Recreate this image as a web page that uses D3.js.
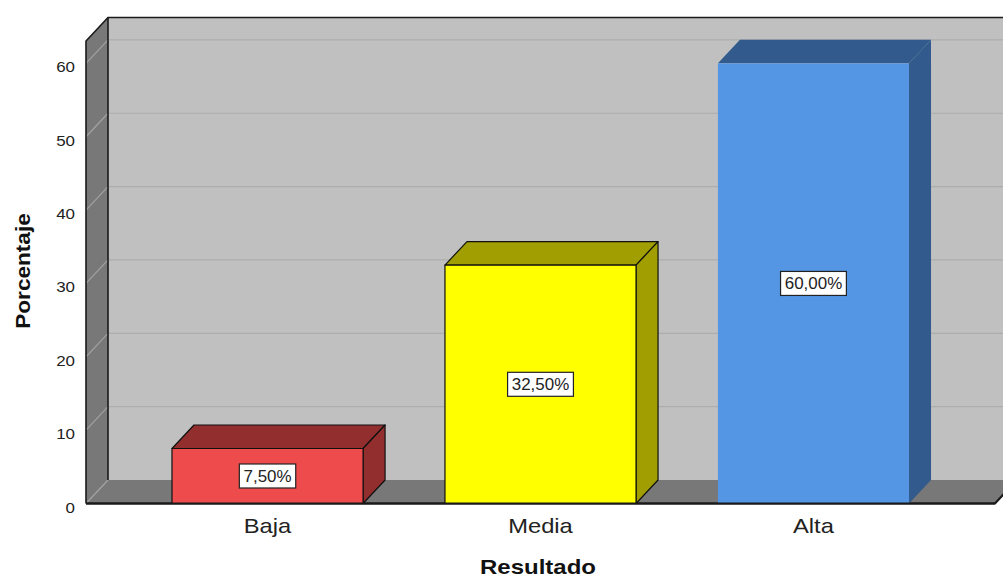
<!DOCTYPE html>
<html>
<head>
<meta charset="utf-8">
<script src="https://cdn.jsdelivr.net/npm/d3@7"></script>
<style>
  html, body { margin: 0; padding: 0; background: #ffffff; }
  svg { display: block; }
  text { font-family: "Liberation Sans", Arial, sans-serif; }
</style>
</head>
<body>
<svg id="chart" width="1003" height="579"></svg>
<script>
// ---- data ----
const categories = ["Baja", "Media", "Alta"];
const values = [7.5, 32.5, 60.0];
const valueLabels = ["7,50%", "32,50%", "60,00%"];
const yTicks = [0, 10, 20, 30, 40, 50, 60];
const frontColors = ["#ee4c4c", "#ffff00", "#5596e4"];
const sideColors = ["#922e2e", "#a09e00", "#325a8c"];
const barStrokes = ["#111111", "#111111", "none"];

(function () {
// ---- layout ----
const W = 1003, H = 579;
const dx = 22, dy = 23.5;
const plotLeft = 86, plotRight = 995, plotBottom = 503.5, plotTop = 41;
const yMax = 63.05;

const svg = d3.select("#chart");

const x = d3.scaleBand().domain(categories).range([plotLeft, plotRight])
  .paddingInner(0.3).paddingOuter(0.315);
const y = d3.scaleLinear().domain([0, yMax]).range([plotBottom, plotTop]);

// back wall
svg.append("polygon")
  .attr("points", [[plotLeft + dx, y(yMax) - dy], [plotRight + dx + 40, y(yMax) - dy], [plotRight + dx + 40, y(0) - dy], [plotLeft + dx, y(0) - dy]].join(" "))
  .attr("fill", "#c0c0c0");
// left wall
svg.append("polygon")
  .attr("points", [[plotLeft, y(yMax)], [plotLeft + dx, y(yMax) - dy], [plotLeft + dx, y(0) - dy], [plotLeft, y(0)]].join(" "))
  .attr("fill", "#787878");
// floor
svg.append("polygon")
  .attr("points", [[plotLeft, y(0)], [plotLeft + dx, y(0) - dy], [plotRight + dx, y(0) - dy], [plotRight, y(0)]].join(" "))
  .attr("fill", "#787878");

// grid lines
const grid = svg.append("g");
yTicks.filter(t => t > 0).forEach(t => {
  grid.append("line")
    .attr("x1", plotLeft + dx).attr("x2", W + 20)
    .attr("y1", y(t) - dy).attr("y2", y(t) - dy)
    .attr("stroke", "#adadad").attr("stroke-width", 1.2);
});
yTicks.forEach(t => {
  grid.append("line")
    .attr("x1", plotLeft).attr("y1", y(t))
    .attr("x2", plotLeft + dx).attr("y2", y(t) - dy)
    .attr("stroke", "#a2a2a2").attr("stroke-width", 1.2);
});

// wall outlines
const outline = svg.append("g").attr("fill", "none").attr("stroke", "#1a1a1a").attr("stroke-width", 1.6);
outline.append("path").attr("d", d3.line()([
  [plotLeft, y(0)], [plotLeft, y(yMax)], [plotLeft + dx, y(yMax) - dy], [W + 20, y(yMax) - dy]
]));
outline.append("line")
  .attr("x1", plotLeft + dx).attr("y1", y(yMax) - dy)
  .attr("x2", plotLeft + dx).attr("y2", y(0) - dy);
outline.append("path").attr("d", d3.line()([
  [plotLeft, y(0)], [plotRight, y(0)], [plotRight + dx, y(0) - dy]
])).attr("stroke-width", 2.2);

// bars
const bars = svg.append("g");
categories.forEach((c, i) => {
  const x0 = x(c), x1 = x(c) + x.bandwidth();
  const yv = y(values[i]), y0 = y(0);
  const g = bars.append("g")
    .attr("stroke", barStrokes[i]).attr("stroke-width", 1.2).attr("stroke-linejoin", "round");
  g.append("polygon")
    .attr("points", [[x0, yv], [x0 + dx, yv - dy], [x1 + dx, yv - dy], [x1, yv]].join(" "))
    .attr("fill", sideColors[i]);
  g.append("polygon")
    .attr("points", [[x1, yv], [x1 + dx, yv - dy], [x1 + dx, y0 - dy], [x1, y0]].join(" "))
    .attr("fill", sideColors[i]);
  g.append("rect")
    .attr("x", x0).attr("y", yv).attr("width", x1 - x0).attr("height", y0 - yv)
    .attr("fill", frontColors[i]);
});
// redraw floor front line on top of bars
svg.append("line")
  .attr("x1", plotLeft).attr("x2", plotRight).attr("y1", y(0)).attr("y2", y(0))
  .attr("stroke", "#1a1a1a").attr("stroke-width", 2.2);

// value labels
const labels = svg.append("g");
categories.forEach((c, i) => {
  const cx = x(c) + x.bandwidth() / 2;
  const cy = (y(values[i]) + y(0)) / 2;
  const g = labels.append("g").attr("transform", `translate(${cx},${cy})`);
  const t = g.append("text")
    .attr("text-anchor", "middle").attr("dy", "0.36em")
    .attr("font-size", 16).attr("fill", "#222")
    .attr("transform", "scale(1.06,1)")
    .text(valueLabels[i]);
  const bb = t.node().getBBox();
  const w = bb.width * 1.06 + 8, h = 24;
  g.insert("rect", "text")
    .attr("x", -w / 2).attr("y", -h / 2).attr("width", w).attr("height", h)
    .attr("fill", "#ffffff").attr("stroke", "#222").attr("stroke-width", 1.2);
});

// y tick labels
const yAxis = svg.append("g");
yTicks.forEach(t => {
  yAxis.append("text")
    .attr("transform", `translate(75,${y(t) + 9}) scale(1.13,1)`)
    .attr("text-anchor", "end")
    .attr("font-size", 15).attr("fill", "#222")
    .text(d3.format("d")(t));
});

// category labels
categories.forEach(c => {
  svg.append("text")
    .attr("transform", `translate(${x(c) + x.bandwidth() / 2},533) scale(1.13,1)`)
    .attr("text-anchor", "middle")
    .attr("font-size", 21).attr("fill", "#222")
    .text(c);
});

// axis titles
svg.append("text")
  .attr("transform", "translate(538,574) scale(1.2,1)")
  .attr("text-anchor", "middle")
  .attr("font-size", 20).attr("font-weight", "bold").attr("fill", "#111")
  .text("Resultado");
svg.append("text")
  .attr("transform", "translate(30,271) rotate(-90) scale(1.13,1)")
  .attr("text-anchor", "middle")
  .attr("font-size", 20).attr("font-weight", "bold").attr("fill", "#111")
  .text("Porcentaje");
})();
</script>
</body>
</html>
